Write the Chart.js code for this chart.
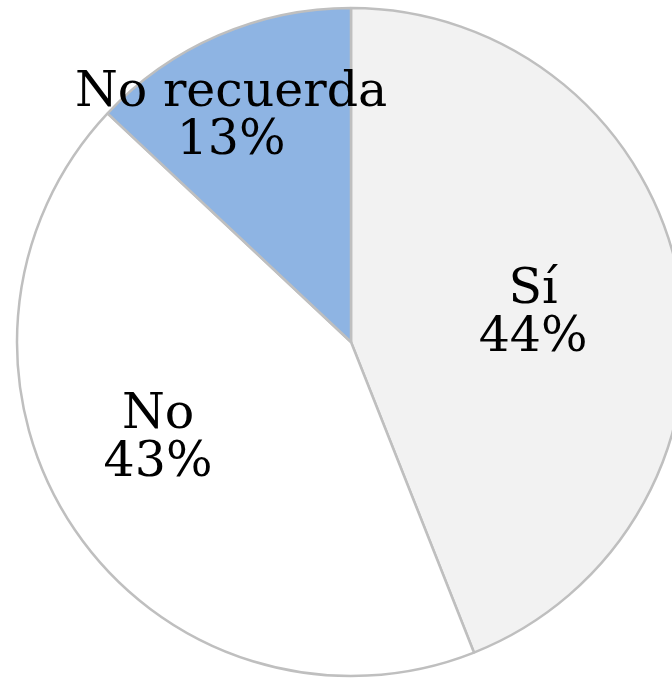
<!DOCTYPE html>
<html>
<head>
<meta charset="utf-8">
<script src="https://cdn.jsdelivr.net/npm/chart.js@4/dist/chart.umd.min.js"></script>
<style>
html,body{margin:0;padding:0;background:#fff;overflow:hidden;width:672px;height:678px;}
canvas{position:absolute;left:0;top:0;}
</style>
</head>
<body>
<canvas id="c" width="702" height="678"></canvas>
<script>
const categories = ["Sí", "No", "No recuerda"];
const percentages = [44, 43, 13];
const sliceColors = ["#f2f2f2", "#ffffff", "#8eb4e3"];

// label placement: [angle in degrees clockwise from top, fraction of radius] (midpoint between baselines)
const labelPlacement = [[85.3, 0.547], [240.3, 0.665], [330.55, 0.730]];

const labelPlugin = {
  id: 'pieLabels',
  afterDatasetsDraw(chart) {
    const ctx = chart.ctx;
    const meta = chart.getDatasetMeta(0);
    ctx.save();
    ctx.fillStyle = '#000';
    ctx.font = '49px "DejaVu Serif"';
    ctx.textAlign = 'center';
    ctx.textBaseline = 'alphabetic';
    const lh = 48;
    meta.data.forEach((arc, i) => {
      const cx = arc.x, cy = arc.y, R = arc.outerRadius;
      const a = labelPlacement[i][0] * Math.PI / 180;
      const r = labelPlacement[i][1] * R;
      const x = cx + r * Math.sin(a);
      const y = cy - r * Math.cos(a);
      ctx.fillText(categories[i], x, y - lh / 2);
      ctx.fillText(percentages[i] + '%', x, y + lh / 2);
    });
    ctx.restore();
  }
};

new Chart(document.getElementById('c'), {
  type: 'pie',
  data: {
    labels: categories,
    datasets: [{
      data: percentages,
      backgroundColor: sliceColors,
      borderColor: '#bfbfbf',
      borderWidth: 2.5,
      hoverOffset: 0,
      radius: 334
    }]
  },
  options: {
    responsive: false,
    devicePixelRatio: 1,
    animation: false,
    layout: { padding: { top: 7, bottom: 1, left: 16, right: 16 } },
    plugins: { legend: { display: false }, tooltip: { enabled: false } },
    events: []
  },
  plugins: [labelPlugin]
});
</script>
</body>
</html>
